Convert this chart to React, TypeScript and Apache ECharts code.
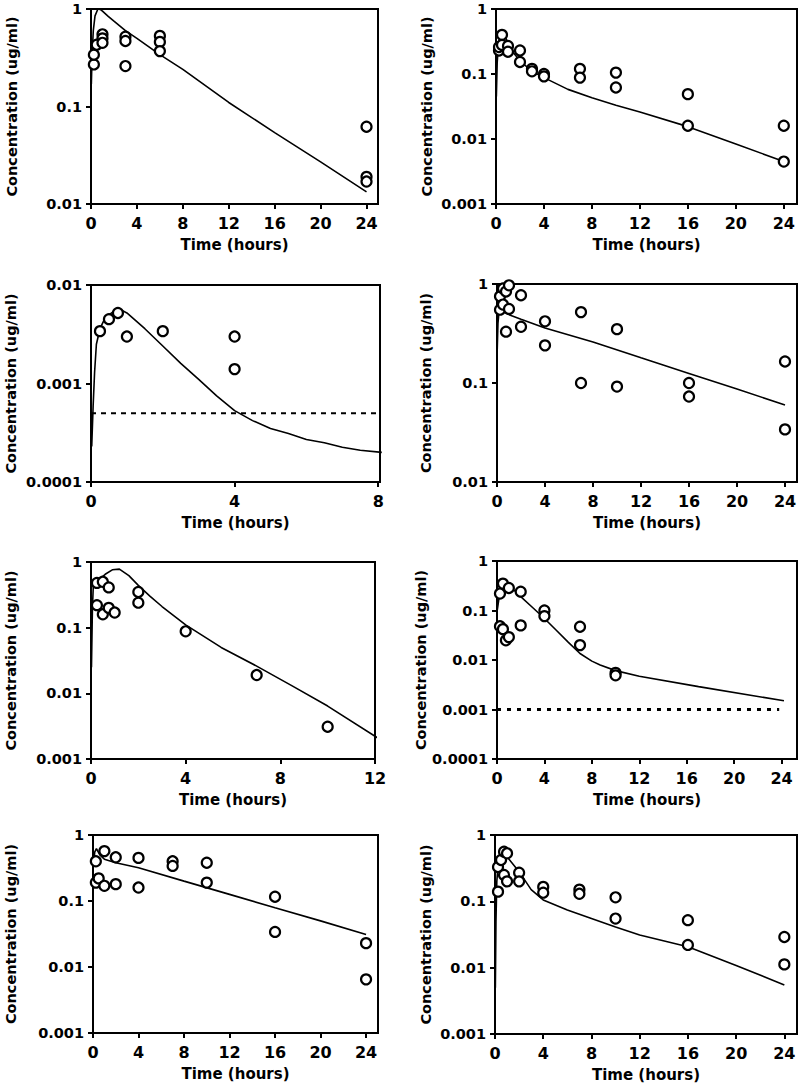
import React, { useEffect, useRef } from "react";
import * as echarts from "echarts";

// ---- tick labels ----
const xTicks24 = [0, 4, 8, 12, 16, 20, 24];
const xTicks8 = [0, 4, 8];
const xTicks12 = [0, 4, 8, 12];

// ---- panel 1 ----
const p1ObsTime = [0.25, 0.25, 0.5, 1, 1, 1, 3, 3, 3, 6, 6, 6, 24, 24, 24];
const p1ObsConc = [0.27, 0.34, 0.43, 0.55, 0.5, 0.45, 0.52, 0.47, 0.26, 0.53, 0.46, 0.37, 0.062, 0.019, 0.017];
const p1FitTime = [0.03, 0.1, 0.2, 0.35, 0.6, 0.8, 1, 1.5, 2, 3, 4, 6, 8, 12, 16, 20, 24];
const p1FitConc = [0.17, 0.35, 0.6, 0.85, 1.0, 0.99, 0.95, 0.84, 0.75, 0.6, 0.5, 0.34, 0.24, 0.11, 0.054, 0.027, 0.0133];

// ---- panel 2 ----
const p2ObsTime = [0.25, 0.25, 0.5, 0.5, 1, 1, 2, 2, 3, 3, 4, 4, 7, 7, 10, 10, 16, 16, 24, 24];
const p2ObsConc = [0.23, 0.26, 0.4, 0.28, 0.27, 0.22, 0.23, 0.153, 0.12, 0.11, 0.1, 0.092, 0.12, 0.088, 0.105, 0.062, 0.049, 0.016, 0.016, 0.0045];
const p2FitTime = [0.03, 0.1, 0.2, 0.35, 0.6, 0.9, 1.3, 2, 3, 4, 6, 8, 10, 12, 16, 20, 24];
const p2FitConc = [0.045, 0.15, 0.28, 0.4, 0.45, 0.33, 0.23, 0.16, 0.11, 0.088, 0.058, 0.043, 0.033, 0.026, 0.0155, 0.0084, 0.0045];

// ---- panel 3 ----
const p3ObsTime = [0.25, 0.5, 0.75, 1, 2, 4, 4];
const p3ObsConc = [0.0034, 0.0045, 0.0052, 0.003, 0.0034, 0.003, 0.0014];
const p3FitTime = [0.02, 0.06, 0.1, 0.15, 0.25, 0.4, 0.75, 1, 1.5, 2, 2.5, 3, 3.5, 4, 4.5, 5, 5.5, 6, 6.5, 7, 7.5, 8.1];
const p3FitConc = [0.00023, 0.0006, 0.0013, 0.0025, 0.0036, 0.0047, 0.0058, 0.0052, 0.0036, 0.0024, 0.0016, 0.0011, 0.00075, 0.00053, 0.00042, 0.00035, 0.00031, 0.00027, 0.00025, 0.000225, 0.00021, 0.0002];
const p3Lloq = 0.0005;

// ---- panel 4 ----
const p4ObsTime = [0.25, 0.25, 0.5, 0.5, 0.75, 0.75, 1, 1, 2, 2, 4, 4, 7, 7, 10, 10, 16, 16, 24, 24];
const p4ObsConc = [0.75, 0.55, 0.9, 0.62, 0.84, 0.33, 0.97, 0.56, 0.77, 0.37, 0.42, 0.24, 0.52, 0.1, 0.35, 0.092, 0.1, 0.073, 0.165, 0.034];
const p4FitTime = [0.02, 0.08, 0.2, 0.5, 1, 2, 4, 8, 12, 16, 20, 24];
const p4FitConc = [0.22, 0.4, 0.58, 0.53, 0.49, 0.44, 0.36, 0.26, 0.18, 0.125, 0.087, 0.06];

// ---- panel 5 ----
const p5ObsTime = [0.25, 0.25, 0.5, 0.5, 0.75, 0.75, 1, 2, 2, 4, 7, 10];
const p5ObsConc = [0.48, 0.22, 0.5, 0.16, 0.41, 0.2, 0.17, 0.35, 0.24, 0.088, 0.019, 0.0031];
const p5FitTime = [0.02, 0.06, 0.1, 0.3, 0.6, 0.9, 1.2, 1.6, 2, 2.5, 3, 4, 5.5, 7, 8.5, 10, 12.3];
const p5FitConc = [0.025, 0.2, 0.45, 0.52, 0.65, 0.76, 0.78, 0.62, 0.44, 0.3, 0.21, 0.11, 0.05, 0.026, 0.013, 0.0064, 0.0019];

// ---- panel 6 ----
const p6ObsTime = [0.25, 0.25, 0.5, 0.5, 0.75, 1, 1, 2, 2, 4, 4, 7, 7, 10, 10];
const p6ObsConc = [0.22, 0.048, 0.35, 0.042, 0.025, 0.285, 0.029, 0.24, 0.05, 0.1, 0.077, 0.047, 0.02, 0.0055, 0.0049];
const p6FitTime = [0.02, 0.2, 0.5, 1, 1.5, 2, 3, 4, 5, 6, 7, 8, 8.7, 10, 12, 17, 24.2];
const p6FitConc = [0.1, 0.2, 0.28, 0.3, 0.25, 0.19, 0.115, 0.069, 0.04, 0.023, 0.0135, 0.0095, 0.0079, 0.0061, 0.0047, 0.0029, 0.0015];
const p6Lloq = 0.001;

// ---- panel 7 ----
const p7ObsTime = [0.25, 0.25, 0.5, 1, 1, 2, 2, 4, 4, 7, 7, 10, 10, 16, 16, 24, 24];
const p7ObsConc = [0.4, 0.19, 0.22, 0.57, 0.17, 0.46, 0.18, 0.45, 0.16, 0.4, 0.34, 0.38, 0.19, 0.116, 0.034, 0.023, 0.0065];
const p7FitTime = [0.05, 0.15, 0.3, 0.6, 1, 2, 4, 8, 12, 16, 20, 24];
const p7FitConc = [0.35, 0.55, 0.62, 0.5, 0.43, 0.38, 0.32, 0.2, 0.126, 0.079, 0.05, 0.031];

// ---- panel 8 ----
const p8ObsTime = [0.25, 0.25, 0.5, 0.75, 0.75, 1, 1, 2, 2, 4, 4, 7, 7, 10, 10, 16, 16, 24, 24];
const p8ObsConc = [0.14, 0.33, 0.42, 0.56, 0.25, 0.53, 0.2, 0.27, 0.2, 0.165, 0.135, 0.15, 0.13, 0.115, 0.055, 0.052, 0.022, 0.029, 0.0112];
const p8FitTime = [0.03, 0.08, 0.15, 0.3, 0.6, 1, 2, 3, 4, 6, 8, 10, 12, 16, 20, 24];
const p8FitConc = [0.005, 0.05, 0.2, 0.45, 0.62, 0.47, 0.28, 0.15, 0.105, 0.074, 0.055, 0.041, 0.031, 0.0207, 0.0108, 0.0055];

const FONT = "DejaVu Sans";

type Panel = {
  box: [number, number, number, number]; // left, top, width, height
  xMax: number;
  xTicks: number[];
  yMin: number;
  yMax: number;
  yNameGap: number;
  obsT: number[];
  obsC: number[];
  fitT: number[];
  fitC: number[];
  lloq?: number;
  lloqEnd?: number;
  lloqStyle?: { type: number[]; width: number };
};

const panels: Panel[] = [
  { box: [91, 9, 287, 195], xMax: 25, xTicks: xTicks24, yMin: 0.01, yMax: 1, yNameGap: 72, obsT: p1ObsTime, obsC: p1ObsConc, fitT: p1FitTime, fitC: p1FitConc },
  { box: [496, 9, 301, 195], xMax: 25.1, xTicks: xTicks24, yMin: 0.001, yMax: 1, yNameGap: 62, obsT: p2ObsTime, obsC: p2ObsConc, fitT: p2FitTime, fitC: p2FitConc },
  { box: [91, 285, 289, 197], xMax: 8.05, xTicks: xTicks8, yMin: 0.0001, yMax: 0.01, yNameGap: 73, obsT: p3ObsTime, obsC: p3ObsConc, fitT: p3FitTime, fitC: p3FitConc, lloq: p3Lloq, lloqEnd: 8.2, lloqStyle: { type: [5, 5], width: 2 } },
  { box: [497, 284, 300, 198], xMax: 25, xTicks: xTicks24, yMin: 0.01, yMax: 1, yNameGap: 64, obsT: p4ObsTime, obsC: p4ObsConc, fitT: p4FitTime, fitC: p4FitConc },
  { box: [91, 562, 284, 197], xMax: 12, xTicks: xTicks12, yMin: 0.001, yMax: 1, yNameGap: 73, obsT: p5ObsTime, obsC: p5ObsConc, fitT: p5FitTime, fitC: p5FitConc },
  { box: [497, 561, 300, 198], xMax: 25.3, xTicks: xTicks24, yMin: 0.0001, yMax: 1, yNameGap: 64, obsT: p6ObsTime, obsC: p6ObsConc, fitT: p6FitTime, fitC: p6FitConc, lloq: p6Lloq, lloqEnd: 23.8, lloqStyle: { type: [4, 6], width: 3 } },
  { box: [93, 835, 285, 198], xMax: 25.05, xTicks: xTicks24, yMin: 0.001, yMax: 1, yNameGap: 75, obsT: p7ObsTime, obsC: p7ObsConc, fitT: p7FitTime, fitC: p7FitConc },
  { box: [495, 835, 302, 199], xMax: 25.05, xTicks: xTicks24, yMin: 0.001, yMax: 1, yNameGap: 62, obsT: p8ObsTime, obsC: p8ObsConc, fitT: p8FitTime, fitC: p8FitConc },
];

const zip = (a: number[], b: number[]) => a.map((v, i) => [v, b[i]]);

function buildOption() {
  const grid: any[] = [];
  const xAxis: any[] = [];
  const yAxis: any[] = [];
  const series: any[] = [];
  const axisLine = { show: true, onZero: false, lineStyle: { color: "#000", width: 2 } };
  panels.forEach((p, i) => {
    grid.push({
      left: p.box[0],
      top: p.box[1],
      width: p.box[2],
      height: p.box[3],
      show: true,
      borderColor: "#000",
      borderWidth: 2,
      backgroundColor: "transparent",
      containLabel: false,
      outerBoundsMode: "none",
    });
    xAxis.push({
      type: "value",
      gridIndex: i,
      min: 0,
      max: p.xMax,
      axisLine,
      axisTick: { show: true, length: 5, lineStyle: { color: "#000", width: 2 }, customValues: p.xTicks },
      axisLabel: { customValues: p.xTicks, color: "#000", fontFamily: FONT, fontWeight: "bold", fontSize: 16, margin: 11 },
      splitLine: { show: false },
      name: "Time (hours)",
      nameLocation: "middle",
      nameGap: 33,
      nameTextStyle: { color: "#000", fontFamily: FONT, fontWeight: "bold", fontSize: 15 },
    });
    yAxis.push({
      type: "log",
      logBase: 10,
      gridIndex: i,
      min: p.yMin,
      max: p.yMax,
      axisLine,
      axisTick: { show: true, length: 5, lineStyle: { color: "#000", width: 2 } },
      axisLabel: {
        color: "#000",
        fontFamily: FONT,
        fontWeight: "bold",
        fontSize: 14.5,
        lineHeight: 12,
        margin: 9,
        formatter: (v: number) => String(parseFloat(Number(v).toPrecision(4))),
      },
      minorTick: { show: false },
      splitLine: { show: false },
      name: "Concentration (ug/ml)",
      nameLocation: "middle",
      nameGap: p.yNameGap,
      nameTextStyle: { color: "#000", fontFamily: FONT, fontWeight: "bold", fontSize: 14.5 },
    });
    if (p.lloq !== undefined) {
      series.push({
        type: "line",
        xAxisIndex: i,
        yAxisIndex: i,
        data: [[0, p.lloq], [p.lloqEnd, p.lloq]],
        showSymbol: false,
        clip: false,
        lineStyle: { color: "#000", width: p.lloqStyle!.width, type: p.lloqStyle!.type },
        z: 1,
      });
    }
    series.push({
      type: "line",
      xAxisIndex: i,
      yAxisIndex: i,
      data: zip(p.fitT, p.fitC),
      showSymbol: false,
      lineStyle: { color: "#000", width: 1.6 },
      z: 2,
    });
    series.push({
      type: "scatter",
      xAxisIndex: i,
      yAxisIndex: i,
      data: zip(p.obsT, p.obsC),
      symbol: "circle",
      symbolSize: 10,
      itemStyle: { color: "#fff", borderColor: "#000", borderWidth: 2.2, opacity: 1 },
      z: 3,
    });
  });
  return { animation: false, backgroundColor: "#fff", grid, xAxis, yAxis, series };
}

export default function App() {
  const ref = useRef<HTMLDivElement>(null);
  useEffect(() => {
    if (!ref.current) return;
    const chart = echarts.init(ref.current, undefined, { renderer: "svg" });
    chart.setOption(buildOption() as any);
    return () => chart.dispose();
  }, []);
  return (
    <div
      ref={ref}
      style={{ position: "absolute", left: 0, top: 0, width: 799, height: 1089, background: "#fff" }}
    />
  );
}
